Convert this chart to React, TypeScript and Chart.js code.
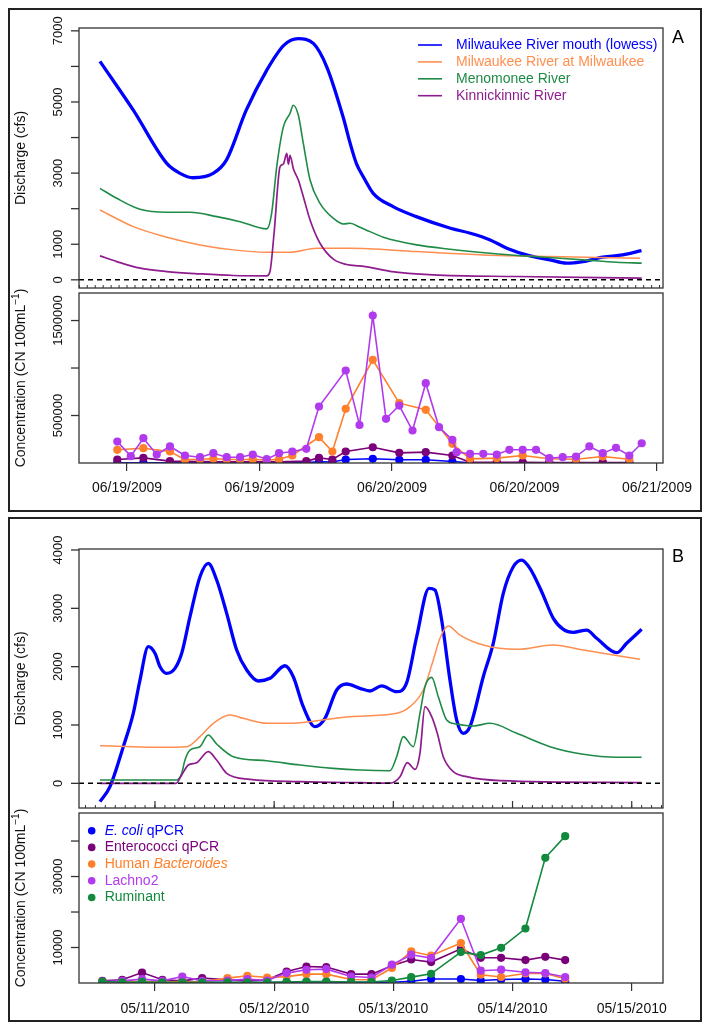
import React, { useEffect, useRef } from "react";
import { Chart, registerables } from "chart.js";
Chart.register(...registerables);

const FONT = "'Liberation Sans', Arial, Helvetica, sans-serif";

// ---------------- Panel A: discharge (hours since 06/19/2009 00:00) ----------------
const aMouthHours = [-2.45, 0.57, 3.6, 4.8, 6.0, 7.8, 9.0, 10.8, 12.65, 14.2, 15.5, 16.9, 18.1, 19.6, 20.2, 20.8, 21.4, 22.3, 24.1, 26.2, 29.3, 31.1, 32.9, 34.4, 36.5, 38.3, 39.8, 41.3, 43.1, 44.9, 46.6];
const aMouthCfs = [6143, 4769, 3273, 2993, 2870, 2993, 3366, 4769, 5890, 6592, 6780, 6640, 5983, 4550, 3850, 3250, 2898, 2432, 2057, 1776, 1450, 1310, 1122, 889, 673, 561, 468, 513, 637, 701, 822];

const aMilwHours = [-2.45, 0.57, 3.6, 6.61, 9.63, 12.65, 14.76, 17.18, 20.2, 26.24, 32.27, 38.32, 46.47];
const aMilwCfs = [1964, 1495, 1198, 982, 842, 777, 777, 889, 889, 794, 701, 654, 608];

const aMenoHours = [-2.45, -0.93, 1.18, 3.6, 5.71, 8.13, 10.24, 12.65, 13.1, 13.56, 14.16, 14.76, 15.06, 15.52, 15.97, 16.58, 17.48, 18.69, 19.6, 20.2, 21.1, 22.01, 23.22, 26.24, 29.26, 32.88, 36.8, 41.33, 44.36, 46.62];
const aMenoCfs = [2572, 2292, 1983, 1899, 1899, 1776, 1635, 1431, 1871, 3178, 4300, 4676, 4909, 4628, 3834, 2805, 2151, 1731, 1571, 1590, 1478, 1355, 1198, 982, 861, 749, 654, 561, 496, 468];

const aKinnHours = [-2.45, -0.93, 1.18, 3.6, 6.61, 9.63, 12.65, 12.95, 13.32, 13.86, 14.16, 14.47, 14.62, 14.76, 15.06, 15.52, 15.97, 16.58, 17.48, 18.69, 19.9, 21.1, 22.01, 23.82, 27.74, 35.3, 46.62];
const aKinnCfs = [673, 513, 328, 233, 168, 121, 112, 233, 1310, 3178, 3254, 3554, 3250, 3500, 3133, 2805, 2337, 1683, 1029, 581, 430, 390, 350, 240, 140, 93, 48];

// ---------------- Panel A: concentrations ----------------
const aSampleHours = [-0.88, 0.34, 1.48, 2.69, 3.89, 5.25, 6.61, 7.82, 9.03, 10.24, 11.39, 12.65, 13.77, 14.97, 16.24, 17.39, 18.6, 19.81, 21.06, 22.26, 23.46, 24.66, 25.86, 27.06, 28.26, 29.47, 29.86, 31.07, 32.27, 33.49, 34.63, 35.84, 37.05, 38.25, 39.46, 40.67, 41.88, 43.09, 44.29, 45.5, 46.62];
const aEcoli = [3000, null, 3000, null, 3000, null, 3000, null, 3000, null, 3000, null, 3000, null, 5000, 12000, 10000, 37000, null, 44000, null, 34000, null, 34000, null, 16000, null, 2000, null, 2000, null, 2000, null, 2000, null, 2000, null, 2000, null, 2000, null];
const aEntero = [37000, null, 54000, null, 20000, null, 15000, null, 12000, null, 12000, null, 12000, null, 20000, 54000, 37000, 121000, null, 166000, null, 107000, null, 114000, null, 79000, null, 8000, null, 8000, null, 8000, null, 6000, null, 6000, null, 6000, null, 6000, null];
const aHuman = [139000, null, 156000, null, 121000, 34000, 40000, 44000, 40000, 35000, 40000, 30000, 40000, 79000, null, 272000, 121000, 570000, null, 1086000, null, 630000, null, 560000, null, 202000, null, 44000, null, 51000, null, 79000, null, 44000, null, 40000, null, 68000, null, 40000, null];
const aLachno = [226000, 72000, 261000, 89000, 174000, 79000, 61000, 103000, 61000, 61000, 89000, 40000, 103000, 121000, 149000, 595000, null, 974000, 400000, 1553000, 465000, 605000, 342000, 840000, 377000, 244000, 114000, 97000, 97000, 89000, 139000, 139000, 139000, 51000, 61000, 68000, 174000, 103000, 160000, 79000, 208000];

// ---------------- Panel B: discharge (hours since 05/11/2010 00:00) ----------------
const bMouthHours = [-11.08, -9.06, -6.38, -4.37, -3.02, -1.35, 0, 1.01, 2.36, 4.03, 5.38, 7.05, 9.06, 10.73, 12.42, 14.44, 16.45, 18.47, 20.8, 23.16, 26.18, 27.85, 29.86, 32.22, 34.23, 36.59, 38.6, 41.28, 43.3, 45.65, 48.67, 50.69, 52.7, 55.18, 56.38, 57.73, 59.4, 60.75, 62.08, 63.43, 66.11, 68.12, 70.14, 72.15, 73.84, 75.51, 77.87, 80.21, 82.22, 84.23, 86.93, 88.94, 92.97, 94.98, 98.0];
const bMouthCfs = [-315, -57, 628, 1200, 1771, 2342, 2229, 1999, 1886, 1971, 2229, 2856, 3542, 3771, 3485, 2914, 2285, 1942, 1754, 1800, 2016, 1828, 1314, 971, 1114, 1600, 1703, 1629, 1583, 1669, 1571, 1726, 2514, 3343, 3314, 2800, 1771, 1086, 857, 971, 1828, 2400, 3257, 3713, 3828, 3686, 3285, 2829, 2640, 2589, 2628, 2486, 2239, 2400, 2640];

const bMilwHours = [-11.08, -4.37, 1.01, 6.38, 9.06, 11.74, 15.1, 17.78, 22.49, 27.18, 32.56, 39.27, 48.67, 51.35, 54.03, 56.04, 57.39, 59.06, 61.42, 66.11, 72.84, 80.21, 86.25, 97.66];
const bMilwCfs = [645, 628, 617, 628, 800, 1029, 1171, 1114, 1029, 1029, 1074, 1143, 1200, 1314, 1600, 2114, 2486, 2697, 2542, 2371, 2297, 2371, 2285, 2126];

const bMenoHours = [-11.08, 4.37, 5.38, 6.04, 7.05, 9.06, 10.73, 12.42, 15.77, 22.49, 29.2, 35.9, 41.28, 47.32, 48.67, 50.0, 52.01, 53.36, 54.37, 55.72, 57.05, 58.74, 60.75, 64.1, 67.46, 72.84, 79.54, 86.25, 92.97, 98.0];
const bMenoCfs = [57, 57, 171, 400, 571, 628, 828, 674, 456, 387, 314, 257, 228, 216, 456, 800, 628, 1200, 1657, 1817, 1485, 1086, 1017, 983, 1029, 857, 628, 497, 446, 446];

const bKinnHours = [-11.08, 4.23, 5.38, 6.71, 8.4, 10.73, 12.42, 14.44, 19.13, 29.2, 41.28, 47.32, 49.34, 50.81, 52.36, 53.36, 54.37, 55.72, 56.85, 58.05, 60.07, 62.77, 69.47, 98.0];
const bKinnCfs = [0, 0, 143, 314, 354, 543, 400, 171, 69, 29, 11, 5, 114, 354, 240, 514, 1314, 1143, 857, 456, 200, 114, 46, 11];

// ---------------- Panel B: concentrations ----------------
const bSampleHours = [-10.6, -6.6, -2.6, 1.5, 5.5, 9.5, 14.6, 18.6, 22.6, 26.5, 30.5, 34.5, 39.5, 43.6, 47.7, 51.6, 55.6, 61.6, 65.6, 69.7, 74.6, 78.6, 82.6];
const bEcoli = [100, 100, 200, 100, 100, 100, 100, 100, 100, 200, 300, 300, 200, 200, 200, 480, 1130, 1130, 700, 990, 1130, 990, 480];
const bEntero = [600, 900, 2960, 900, 600, 1380, 900, 600, 900, 3240, 4650, 4480, 2500, 2500, 4880, 6620, 5890, 9630, 7100, 7100, 6450, 7380, 6450];
const bHuman = [300, 300, 500, 300, 400, 300, 1380, 2030, 1550, 1800, 2500, 2500, 1000, 900, 4230, 8930, 7690, 11270, 2340, 1690, 2680, 2680, 1180];
const bLachno = [400, 600, 1100, 600, 1830, 600, 700, 1100, 700, 2790, 3720, 3910, 1830, 1550, 5150, 7970, 7040, 18080, 3460, 3750, 3010, 2820, 1690];
const bRuminant = [420, 200, 300, 200, 200, 200, 200, 200, 200, 300, 400, 400, 300, 300, 700, 1660, 2590, 8700, 7860, 9920, 15350, 35270, 41380];

// ---------------- Ticks & labels ----------------
const aDateTicks = [0, 12, 24, 36, 48];
const aDateLabels = ["06/19/2009", "06/19/2009", "06/20/2009", "06/20/2009", "06/21/2009"];
const bDateTicks = [0, 24, 48, 72, 96];
const bDateLabels = ["05/11/2010", "05/12/2010", "05/13/2010", "05/14/2010", "05/15/2010"];
const aDisTicks = [0, 1000, 2000, 3000, 4000, 5000, 6000, 7000];
const aDisLabels = ["0", "1000", "", "3000", "", "5000", "", "7000"];
const aConcTicks = [500000, 1000000, 1500000];
const aConcLabels = ["500000", "", "1500000"];
const bDisTicks = [0, 1000, 2000, 3000, 4000];
const bDisLabels = ["0", "1000", "2000", "3000", "4000"];
const bConcTicks = [10000, 20000, 30000, 40000];
const bConcLabels = ["10000", "", "30000", ""];

const C = {
  mouth: "#0000FF",
  milw: "#FF8F50",
  meno: "#1F8B47",
  kinn: "#8E1C8E",
  ecoli: "#0000FF",
  entero: "#7A007A",
  human: "#FF7F2A",
  lachno: "#B23AEE",
  rum: "#128A3E",
};

const pts = (xs: number[], ys: (number | null)[]) => xs.map((x, i) => ({ x, y: ys[i] }));

const lineDs = (label: string, xs: number[], ys: number[], color: string, width: number, order: number) => ({
  label, data: pts(xs, ys), borderColor: color, backgroundColor: color, borderWidth: width,
  pointRadius: 0, cubicInterpolationMode: "monotone", order,
});

const pointDs = (label: string, xs: number[], ys: (number | null)[], color: string, order: number) => ({
  label, data: pts(xs, ys), borderColor: color, backgroundColor: color, borderWidth: 1.6,
  pointRadius: 4.1, pointBorderWidth: 0, pointBackgroundColor: color, tension: 0, spanGaps: true, order,
});

const framePlugin = {
  id: "rframe",
  afterDraw(chart: any, _a: any, o: any) {
    const ctx = chart.ctx;
    const ca = chart.chartArea;
    const ys = chart.scales.y;
    const xs = chart.scales.x;
    ctx.save();
    if (o.zeroLine) {
      const y0 = ys.getPixelForValue(0);
      ctx.beginPath();
      ctx.setLineDash([5, 4]);
      ctx.lineWidth = 1.5;
      ctx.strokeStyle = "#000";
      ctx.moveTo(ca.left, y0);
      ctx.lineTo(ca.right, y0);
      ctx.stroke();
      ctx.setLineDash([]);
    }
    ctx.strokeStyle = "#333";
    if (o.rugStep) {
      ctx.lineWidth = 1;
      const start = Math.ceil(xs.min / o.rugStep) * o.rugStep;
      for (let v = start; v <= xs.max; v += o.rugStep) {
        const px = xs.getPixelForValue(v);
        ctx.beginPath();
        ctx.moveTo(px, ca.bottom);
        ctx.lineTo(px, ca.bottom - 3);
        ctx.stroke();
      }
    }
    if (o.majorTicks) {
      ctx.lineWidth = 1.2;
      o.majorTicks.forEach((v: number) => {
        const px = xs.getPixelForValue(v);
        ctx.beginPath();
        ctx.moveTo(px, ca.bottom);
        ctx.lineTo(px, ca.bottom - 7);
        ctx.stroke();
      });
    }
    // frame
    ctx.lineWidth = 1.3;
    ctx.strokeRect(ca.left, ca.top, ca.right - ca.left, ca.bottom - ca.top);
    // y ticks and rotated labels
    ctx.fillStyle = "#111";
    ctx.font = `13px ${FONT}`;
    o.yTicks.forEach((v: number, i: number) => {
      const py = ys.getPixelForValue(v);
      ctx.beginPath();
      ctx.moveTo(ca.left - 8, py);
      ctx.lineTo(ca.left, py);
      ctx.stroke();
      const lab = o.yLabels[i];
      if (lab) {
        ctx.save();
        ctx.translate(ca.left - 17, py);
        ctx.rotate(-Math.PI / 2);
        ctx.textAlign = "center";
        ctx.textBaseline = "alphabetic";
        ctx.fillText(lab, 0, 0);
        ctx.restore();
      }
    });
    // y title
    if (o.title) {
      const parts = o.title as { t: string; sup?: boolean }[];
      const fontFor = (p: any) => `${p.sup ? 10 : 14}px ${FONT}`;
      let total = 0;
      parts.forEach((p) => { ctx.font = fontFor(p); total += ctx.measureText(p.t).width; });
      ctx.save();
      ctx.translate(ca.left - 54, (ca.top + ca.bottom) / 2);
      ctx.rotate(-Math.PI / 2);
      ctx.textAlign = "left";
      ctx.textBaseline = "alphabetic";
      let x = -total / 2;
      parts.forEach((p) => {
        ctx.font = fontFor(p);
        ctx.fillText(p.t, x, p.sup ? -6 : 0);
        x += ctx.measureText(p.t).width;
      });
      ctx.restore();
    }
    // line legend
    if (o.lineLegend) {
      const L = o.lineLegend;
      ctx.font = `14px ${FONT}`;
      ctx.textBaseline = "middle";
      ctx.textAlign = "left";
      L.items.forEach((it: any, i: number) => {
        const y = L.y + i * L.dy;
        ctx.strokeStyle = it.color;
        ctx.lineWidth = 1.6;
        ctx.beginPath();
        ctx.moveTo(L.x, y);
        ctx.lineTo(L.x + 24, y);
        ctx.stroke();
        ctx.fillStyle = it.color;
        ctx.fillText(it.label, L.x + 38, y);
      });
    }
    // point legend
    if (o.pointLegend) {
      const L = o.pointLegend;
      ctx.textBaseline = "middle";
      ctx.textAlign = "left";
      L.items.forEach((it: any, i: number) => {
        const y = L.y + i * L.dy;
        ctx.fillStyle = it.color;
        ctx.beginPath();
        ctx.arc(L.x, y, 3.8, 0, Math.PI * 2);
        ctx.fill();
        let x = L.x + 13;
        it.parts.forEach((p: any) => {
          ctx.font = `${p.italic ? "italic " : ""}14px ${FONT}`;
          ctx.fillText(p.t, x, y);
          x += ctx.measureText(p.t).width;
        });
      });
    }
    if (o.letter) {
      ctx.fillStyle = "#000";
      ctx.font = `18px ${FONT}`;
      ctx.textAlign = "center";
      ctx.textBaseline = "middle";
      ctx.fillText(o.letter.t, o.letter.x, o.letter.y);
    }
    ctx.restore();
  },
};

function makeConfig(p: any) {
  return {
    type: "line",
    data: { datasets: p.datasets },
    options: {
      responsive: false,
      animation: false,
      devicePixelRatio: 1,
      events: [],
      layout: { padding: p.pad },
      plugins: { legend: { display: false }, tooltip: { enabled: false }, rframe: p.frame },
      scales: {
        x: {
          type: "linear",
          min: p.xMin,
          max: p.xMax,
          display: p.showX,
          afterBuildTicks: (s: any) => { s.ticks = p.xTicks.map((v: number) => ({ value: v })); },
          afterFit: (s: any) => { if (p.showX) s.height = p.xAxisHeight; },
          grid: { display: true, drawOnChartArea: false, drawTicks: true, tickLength: 8, color: "#333", lineWidth: 1.2 },
          border: { display: false },
          ticks: {
            autoSkip: false, maxRotation: 0, minRotation: 0, padding: p.xTickPadding || 8, color: "#111",
            font: { family: FONT, size: 14 },
            callback: (_v: any, i: number) => p.xLabels[i] ?? "",
          },
        },
        y: { type: "linear", min: p.yMin, max: p.yMax, display: false },
      },
    },
    plugins: [framePlugin],
  };
}

const W = 694;

export default function App() {
  const rA1 = useRef<HTMLCanvasElement>(null);
  const rA2 = useRef<HTMLCanvasElement>(null);
  const rB1 = useRef<HTMLCanvasElement>(null);
  const rB2 = useRef<HTMLCanvasElement>(null);

  useEffect(() => {
    const charts: Chart[] = [];
    const aX = { xMin: -4.35, xMax: 48.55, xTicks: aDateTicks, xLabels: aDateLabels };
    const bX = { xMin: -15.3, xMax: 102.3, xTicks: bDateTicks, xLabels: bDateLabels };

    charts.push(new Chart(rA1.current as any, makeConfig({
      ...aX, showX: false, yMin: -230, yMax: 7080,
      pad: { left: 71, top: 20, right: 39, bottom: 4 },
      datasets: [
        lineDs("Milwaukee River mouth (lowess)", aMouthHours, aMouthCfs, C.mouth, 3.3, 4),
        lineDs("Milwaukee River at Milwaukee", aMilwHours, aMilwCfs, C.milw, 1.5, 3),
        lineDs("Menomonee River", aMenoHours, aMenoCfs, C.meno, 1.6, 2),
        lineDs("Kinnickinnic River", aKinnHours, aKinnCfs, C.kinn, 1.7, 1),
      ],
      frame: {
        zeroLine: true, rugStep: 0.72, yTicks: aDisTicks, yLabels: aDisLabels,
        title: [{ t: "Discharge (cfs)" }],
        lineLegend: {
          x: 410, y: 37, dy: 16.9,
          items: [
            { label: "Milwaukee River mouth (lowess)", color: C.mouth },
            { label: "Milwaukee River at Milwaukee", color: C.milw },
            { label: "Menomonee River", color: C.meno },
            { label: "Kinnickinnic River", color: C.kinn },
          ],
        },
        letter: { t: "A", x: 670, y: 30 },
      },
    }) as any));

    charts.push(new Chart(rA2.current as any, makeConfig({
      ...aX, showX: true, xAxisHeight: 40, xTickPadding: 9, yMin: 0, yMax: 1790000,
      pad: { left: 71, top: 5, right: 39, bottom: 9 },
      datasets: [
        pointDs("E. coli qPCR", aSampleHours, aEcoli, C.ecoli, 4),
        pointDs("Enterococci qPCR", aSampleHours, aEntero, C.entero, 3),
        pointDs("Human Bacteroides", aSampleHours, aHuman, C.human, 2),
        pointDs("Lachno2", aSampleHours, aLachno, C.lachno, 1),
      ],
      frame: {
        yTicks: aConcTicks, yLabels: aConcLabels,
        title: [{ t: "Concentration (CN 100mL" }, { t: "\u22121", sup: true }, { t: ")" }],
      },
    }) as any));

    charts.push(new Chart(rB1.current as any, makeConfig({
      ...bX, showX: false, yMin: -423, yMax: 4017,
      pad: { left: 71, top: 32, right: 39, bottom: 3 },
      datasets: [
        lineDs("Milwaukee River mouth (lowess)", bMouthHours, bMouthCfs, C.mouth, 3.3, 4),
        lineDs("Milwaukee River at Milwaukee", bMilwHours, bMilwCfs, C.milw, 1.5, 3),
        lineDs("Menomonee River", bMenoHours, bMenoCfs, C.meno, 1.6, 2),
        lineDs("Kinnickinnic River", bKinnHours, bKinnCfs, C.kinn, 1.7, 1),
      ],
      frame: {
        zeroLine: true, rugStep: 2, majorTicks: bDateTicks, yTicks: bDisTicks, yLabels: bDisLabels,
        title: [{ t: "Discharge (cfs)" }],
        letter: { t: "B", x: 670, y: 40 },
      },
    }) as any));

    charts.push(new Chart(rB2.current as any, makeConfig({
      ...bX, showX: true, xAxisHeight: 38, xTickPadding: 10, yMin: 0, yMax: 47900,
      pad: { left: 71, top: 5, right: 39, bottom: 1 },
      datasets: [
        pointDs("E. coli qPCR", bSampleHours, bEcoli, C.ecoli, 5),
        pointDs("Enterococci qPCR", bSampleHours, bEntero, C.entero, 4),
        pointDs("Human Bacteroides", bSampleHours, bHuman, C.human, 3),
        pointDs("Lachno2", bSampleHours, bLachno, C.lachno, 2),
        pointDs("Ruminant", bSampleHours, bRuminant, C.rum, 1),
      ],
      frame: {
        yTicks: bConcTicks, yLabels: bConcLabels,
        title: [{ t: "Concentration (CN 100mL" }, { t: "\u22121", sup: true }, { t: ")" }],
        pointLegend: {
          x: 83.7, y: 22.7, dy: 16.7,
          items: [
            { color: C.ecoli, parts: [{ t: "E. coli", italic: true }, { t: " qPCR" }] },
            { color: C.entero, parts: [{ t: "Enterococci qPCR" }] },
            { color: C.human, parts: [{ t: "Human " }, { t: "Bacteroides", italic: true }] },
            { color: C.lachno, parts: [{ t: "Lachno2" }] },
            { color: C.rum, parts: [{ t: "Ruminant" }] },
          ],
        },
      },
    }) as any));

    return () => charts.forEach((c) => c.destroy());
  }, []);

  const cv = (top: number, h: number): React.CSSProperties => ({ position: "absolute", left: 0, top, width: W, height: h });
  const box = (top: number, h: number): React.CSSProperties => ({
    position: "absolute", left: 0, top, width: W, height: h, border: "2px solid #222", boxSizing: "border-box", pointerEvents: "none",
  });

  return (
    <div style={{ position: "relative", width: W, height: 1016 }}>
      <canvas ref={rA1} width={W} height={284} style={cv(0, 284)} />
      <canvas ref={rA2} width={W} height={224} style={cv(280, 224)} />
      <canvas ref={rB1} width={W} height={294} style={cv(509, 294)} />
      <canvas ref={rB2} width={W} height={214} style={cv(800, 214)} />
      <div style={box(0, 504)} />
      <div style={box(509, 505)} />
    </div>
  );
}
